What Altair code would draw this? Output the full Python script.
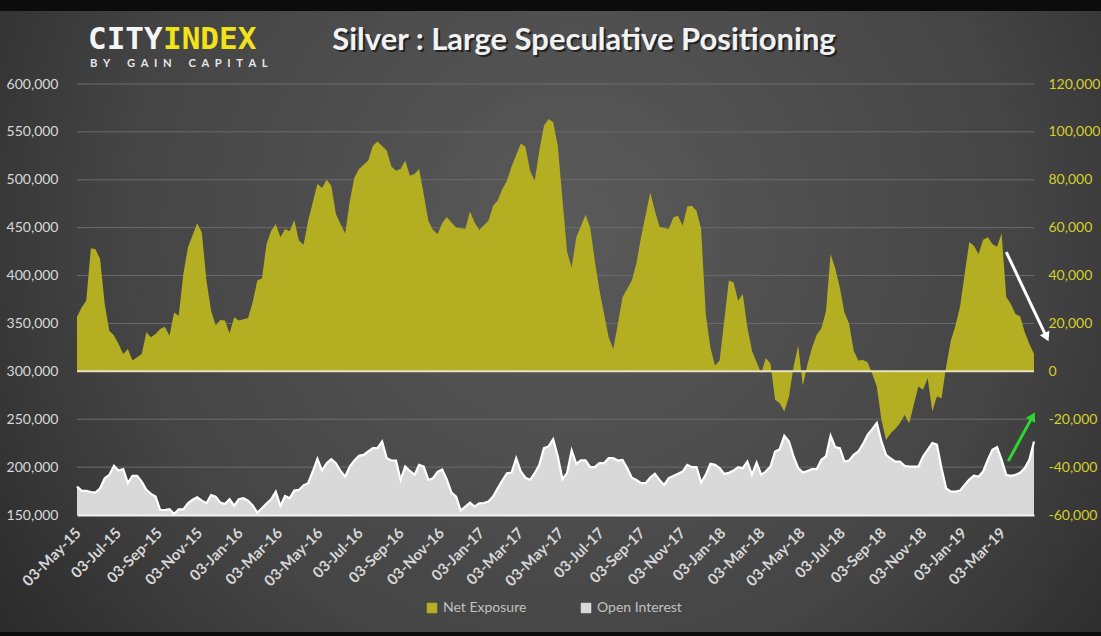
import altair as alt
import pandas as pd

# ---------------- data ----------------
START = "2015-05-03"  # weekly observations, week 0 = 03-May-15

ne_week = [0, 1, 2, 3, 4, 5, 6, 7, 8, 9, 10, 11, 12, 14, 15, 16, 17, 18, 19, 20,
           21, 22, 23, 24, 26, 27, 28, 29, 30, 31, 32, 33, 34, 35, 37, 38, 39, 40, 41, 42,
           43, 44, 45, 46, 47, 48, 49, 50, 52, 53, 54, 55, 56, 57, 58, 59, 60, 61, 63, 64,
           65, 67, 68, 69, 70, 71, 72, 73, 74, 75, 76, 77, 78, 79, 80, 81, 82, 83, 84, 85,
           86, 87, 88, 89, 90, 91, 92, 93, 94, 96, 97, 98, 99, 100, 101, 102, 103, 104, 105, 106,
           107, 108, 110, 111, 112, 113, 114, 115, 116, 117, 118, 120, 121, 122, 124, 125, 126, 128, 129, 130,
           131, 132, 133, 134, 135, 136, 137, 138, 139, 140, 141, 142, 143, 144, 145, 146, 147, 148, 149, 150,
           151, 152, 153, 154, 155, 156, 157, 158, 159, 160, 161, 162, 163, 164, 165, 166, 167, 168, 169, 170,
           171, 172, 173, 174, 175, 176, 177, 178, 179, 180, 181, 182, 183, 184, 185, 186, 187, 188, 189, 190,
           191, 192, 193, 194, 195, 196, 197, 198, 199, 200, 201, 202, 203, 204, 205, 206, 207]
ne_value = [22800, 26700, 29500, 51400, 51000, 46900, 28000, 17000, 15000, 11400, 7200, 9300, 4500, 7200, 16300, 14200, 15600, 17700, 18600, 14900,
            24600, 23200, 40600, 51800, 61800, 58000, 37900, 25300, 19100, 21400, 21200, 15900, 22600, 21200, 22300, 28800, 37900, 38800, 53200, 58700,
            61500, 56000, 59400, 58500, 63200, 54600, 52900, 62900, 78200, 76600, 80000, 77500, 65700, 61500, 57600, 71000, 81000, 84500, 88000, 94200,
            96000, 92200, 85500, 83800, 84500, 88000, 81700, 82400, 84500, 74000, 62900, 59000, 57400, 62000, 64500, 62200, 60100, 59800, 59400, 66800,
            62200, 59000, 61000, 62900, 69200, 71300, 76100, 79600, 85500, 95200, 93800, 83800, 79600, 92200, 102600, 105400, 104000, 94200, 72000, 50000,
            43400, 56000, 65400, 60100, 46200, 34000, 24000, 14200, 9300, 20000, 30900, 37900, 45000, 56000, 74700, 67100, 60400, 59400, 64300, 65000,
            60800, 68800, 69200, 67100, 59400, 23900, 10000, 2400, 4500, 21200, 37900, 37200, 29500, 32300, 18400, 8600, 3800, -800, 5600, 3300,
            -11900, -13300, -16800, -10500, 2000, 10700, -6000, 3000, 10000, 15300, 18000, 25000, 49000, 43000, 35000, 24600, 20000, 8600, 4500, 4700,
            3800, -1000, -6300, -20300, -28700, -25900, -24000, -21700, -18200, -21700, -14000, -6300, -7700, -2800, -16800, -10500, -11200, 2000, 12800, 19000,
            27000, 40600, 54000, 52500, 49000, 55000, 56000, 53200, 52000, 57600, 31000, 28100, 23900, 23000, 16300, 11400, 7200]

oi_value = [179700, 175500, 175100, 174000, 173400, 177900, 188400, 191900, 201300, 196400,
            197800, 183200, 190800, 190800, 184900, 176200, 172000, 169200, 155200, 155200,
            156000, 151000, 155900, 155900, 162200, 166000, 168500, 165000, 162200, 170900,
            169200, 162900, 161500, 166400, 159800, 166400, 167500, 165000, 160000, 152400,
            157000, 162000, 166400, 174400, 159400, 169900, 167500, 175500, 176200, 181000,
            183200, 195400, 208600, 196400, 204100, 208300, 204100, 196000, 190100, 200600,
            207000, 211800, 212800, 216300, 219800, 219800, 226800, 209300, 206900, 206900,
            186600, 200600, 196000, 191900, 202400, 200600, 186600, 188400, 195000, 197500,
            187000, 173400, 169200, 154500, 158700, 162900, 158700, 162200, 162500, 164000,
            169200, 178000, 186000, 193600, 194300, 209300, 195400, 189000, 186600, 193600,
            202400, 219800, 221600, 229200, 211100, 187300, 193600, 217400, 203400, 207000,
            207000, 200000, 200000, 204100, 204100, 209300, 209300, 206900, 207600, 199000,
            189000, 186600, 183200, 183200, 189000, 192900, 186600, 181400, 188400, 190800,
            193000, 195400, 202400, 199900, 199900, 183900, 191900, 203400, 202400, 198900,
            192900, 194000, 196400, 199900, 198900, 205800, 191900, 204800, 191900, 195400,
            200600, 216300, 218800, 232700, 226800, 211100, 198900, 194300, 196000, 197800,
            197800, 207600, 211100, 232700, 220800, 219800, 205800, 206900, 212800, 216300,
            224000, 233800, 239700, 246000, 226800, 212800, 209000, 205800, 205800, 201300,
            200600, 200600, 200600, 211100, 218100, 225100, 223400, 198900, 177900, 174400,
            174400, 175500, 181400, 187000, 191000, 190000, 195400, 207600, 218100, 220800,
            207600, 191900, 190800, 191900, 194000, 199000, 207600, 226800]
oi_week = list(range(len(oi_value)))

tick_dates = ["2015-05-03", "2015-07-03", "2015-09-03", "2015-11-03",
              "2016-01-03", "2016-03-03", "2016-05-03", "2016-07-03", "2016-09-03", "2016-11-03",
              "2017-01-03", "2017-03-03", "2017-05-03", "2017-07-03", "2017-09-03", "2017-11-03",
              "2018-01-03", "2018-03-03", "2018-05-03", "2018-07-03", "2018-09-03", "2018-11-03",
              "2019-01-03", "2019-03-03"]
left_ticks = [150000, 200000, 250000, 300000, 350000, 400000, 450000, 500000, 550000, 600000]
right_ticks = [-60000, -40000, -20000, 0, 20000, 40000, 60000, 80000, 100000, 120000]

# annotation arrows (date, net exposure level)
white_arrow = {"d1": "2019-03-10", "v1": 49800, "d2": "2019-05-10", "v2": 14300}
green_arrow = {"d1": "2019-03-13", "v1": -37500, "d2": "2019-04-19", "v2": -18800}

SERIES = ["Net Exposure", "Open Interest"]
OLIVE = "#b3ae22"
LIGHT = "#d9d9d9"

# ---------------- frames ----------------
start = pd.Timestamp(START)
def wdate(w):
    return (start + pd.Timedelta(days=7 * w)).strftime("%Y-%m-%d")

ne = pd.DataFrame({"date": [wdate(w) for w in ne_week], "value": ne_value, "series": SERIES[0]})
oi = pd.DataFrame({"date": [wdate(w) for w in oi_week], "value": oi_value, "series": SERIES[1]})
end_date = wdate(oi_week[-1])

def dt(s):
    y, m, d = (int(p) for p in s.split("-"))
    return alt.DateTime(year=y, month=m, date=d, utc=True)

W, H = 957, 431
PAD = {"left": 77, "top": 84, "right": 67, "bottom": 121}

xscale = alt.Scale(type="utc", domain=[dt(START), dt(end_date)], nice=False)
xaxis = alt.Axis(values=[dt(s) for s in tick_dates], format="%d-%b-%y", labelAngle=-45,
                 labelColor="#d6d6d6", labelFont="Lato", labelFontSize=15, labelFontWeight="bold",
                 ticks=False, grid=False, domainColor="#f2f2f2", domainWidth=2,
                 labelPadding=10, labelOffset=-4, labelOverlap=False, labelFlush=False,
                 labelBound=False, title=None, zindex=1)

oi_scale = alt.Scale(domain=[150000, 600000], nice=False, zero=False)
ne_scale = alt.Scale(domain=[-60000, 120000], nice=False, zero=False)

left_axis = alt.Axis(values=left_ticks, orient="left", labelColor="#d9d9d9",
                     labelExpr="format(datum.value, ',')",
                     labelFont="Lato", labelFontSize=14, ticks=False, domain=False, grid=False,
                     labelPadding=19, title=None, zindex=1)
right_axis = alt.Axis(values=right_ticks, orient="right", labelColor="#d4cf2c",
                      labelExpr="replace(format(datum.value, ','), '\u2212', '-')",
                      labelFont="Lato", labelFontSize=14, ticks=False, domain=False, grid=False,
                      labelPadding=14, title=None, zindex=1)

def X(field="date"):
    return alt.X(f"{field}:T", scale=xscale, axis=xaxis, title=None)

def YOI(field):
    return alt.Y(f"{field}:Q", scale=oi_scale, axis=left_axis, title=None)

def YNE(field):
    return alt.Y(f"{field}:Q", scale=ne_scale, axis=right_axis, title=None)

color = alt.Color("series:N", scale=alt.Scale(domain=SERIES, range=[OLIVE, LIGHT]),
                  legend=alt.Legend(orient="none", legendX=348, legendY=517, direction="horizontal",
                                    title=None, symbolType="square", symbolSize=110,
                                    symbolStrokeWidth=0, labelColor="#c0c0c0", labelFont="Lato",
                                    labelFontSize=14, labelOffset=4, columnPadding=52, zindex=1))

dummy = pd.DataFrame({"k": [0]})

# ---------------- background ----------------
bg = alt.Chart(dummy).mark_rect(
    fill=alt.RadialGradient(gradient="radial",
                            stops=[alt.GradientStop(offset=0, color="#5a5a5a"),
                                   alt.GradientStop(offset=0.55, color="#444444"),
                                   alt.GradientStop(offset=1, color="#1e1e1e")],
                            x1=0.52, y1=0.42, r1=0, x2=0.52, y2=0.42, r2=0.75)
).encode(x=alt.value(-PAD["left"]), x2=alt.value(W + PAD["right"]),
         y=alt.value(-PAD["top"]), y2=alt.value(H + PAD["bottom"]))
top_band = alt.Chart(dummy).mark_rect(color="#0c0c0c").encode(
    x=alt.value(-PAD["left"]), x2=alt.value(W + PAD["right"]), y=alt.value(-PAD["top"]), y2=alt.value(-PAD["top"] + 11))
bot_band = alt.Chart(dummy).mark_rect(color="#0c0c0c").encode(
    x=alt.value(-PAD["left"]), x2=alt.value(W + PAD["right"]), y=alt.value(H + PAD["bottom"] - 4), y2=alt.value(H + PAD["bottom"]))

# ---------------- open interest group (left axis) ----------------
grid = alt.Chart(pd.DataFrame({"value": left_ticks[1:]})).mark_rule(color="#6c6c6c", strokeWidth=1).encode(
    y=YOI("value"))
oi_area = alt.Chart(oi).mark_area(opacity=1).encode(
    x=X(), y=YOI("value"), y2=alt.datum(150000), color=color)
oi_line = alt.Chart(oi).mark_line(color="#ffffff", strokeWidth=2.2).encode(
    x=X(), y=YOI("value"))
oi_group = alt.layer(grid, oi_area, oi_line)

# ---------------- net exposure group (right axis) ----------------
ne_area = alt.Chart(ne).mark_area(opacity=1).encode(
    x=X(), y=YNE("value"), y2=alt.datum(0), color=color)
zero = alt.Chart(pd.DataFrame({"value": [0]})).mark_rule(color="#e6e3bd", strokeWidth=2).encode(
    y=YNE("value"))

def arrow(spec, col, ang):
    df = pd.DataFrame([spec])
    shaft = alt.Chart(df).mark_rule(color=col, strokeWidth=3).encode(
        x=X("d1"), x2="d2:T", y=YNE("v1"), y2="v2:Q")
    head = alt.Chart(df).mark_point(shape="triangle-up", filled=True, opacity=1, color=col,
                                     size=110, angle=ang).encode(x=X("d2"), y=YNE("v2"))
    return [shaft, head]

ne_group = alt.layer(ne_area, zero, *arrow(white_arrow, "#ffffff", 154.5),
                     *arrow(green_arrow, "#2fd62f", 29))

# ---------------- texts ----------------
def txt(s, x, y, **kw):
    return alt.Chart(dummy).mark_text(text=s, **kw).encode(x=alt.value(x), y=alt.value(y))

title_shadow = txt("Silver : Large Speculative Positioning", 509, -32, font="Lato", fontSize=31,
                   fontWeight="bold", color="#000000", opacity=0.55, align="center", baseline="alphabetic")
title = txt("Silver : Large Speculative Positioning", 507, -34, font="Lato", fontSize=31,
            fontWeight="bold", color="#f2f2f2", align="center", baseline="alphabetic")
logo1 = txt("CITY", 11, -35, font="DejaVu Sans Mono", fontSize=31, fontWeight="bold", color="#f5f5f5",
            align="left", baseline="alphabetic")
logo2 = txt("INDEX", 86, -35, font="DejaVu Sans Mono", fontSize=31, fontWeight="bold", color="#f2e21a",
            align="left", baseline="alphabetic")
sp = "\u2002"
logo3 = txt(sp.join("BY") + sp * 3 + sp.join("GAIN") + sp * 3 + sp.join("CAPITAL"), 13, -17,
            font="Lato", fontSize=11.2, fontWeight="bold", color="#e6e6e6", align="left",
            baseline="alphabetic")

chart = alt.layer(bg, top_band, bot_band, oi_group, ne_group,
                  title_shadow, title, logo1, logo2, logo3).resolve_scale(
    y="independent"
).properties(
    width=W, height=H, autosize=alt.AutoSizeParams(type="none"), padding=PAD,
    background="#2a2a2a"
).configure_view(stroke=None)

chart.save("out.html", embed_options={"renderer": "svg", "actions": False})
